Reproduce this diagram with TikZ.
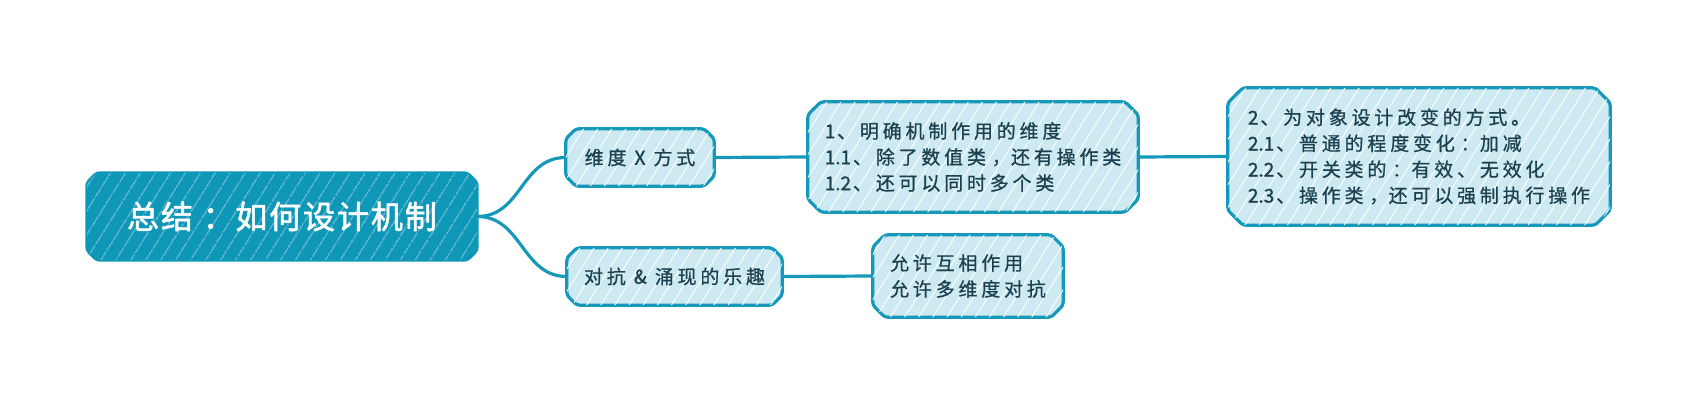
\documentclass[tikz,border=0pt]{standalone}
\usepackage{fontspec}
\newfontfamily\cjk[LetterSpace=20,FakeBold=0.8]{Noto Sans CJK SC}
\newfontfamily\digf[FakeBold=1.2]{Noto Sans CJK SC}
\newfontfamily\cjkroot[LetterSpace=6,FakeBold=1.6]{Noto Sans CJK SC}
\usetikzlibrary{patterns.meta,backgrounds}
\definecolor{teal}{HTML}{0F97B7}
\definecolor{lightfill}{HTML}{CDE9F1}
\definecolor{shadowc}{HTML}{DCEFF5}
\definecolor{edge}{HTML}{1598BA}
\definecolor{ink}{HTML}{1C4050}
\newcommand\cc[1]{\kern0.3em#1\kern0.02em}
\newcommand\nm[1]{{\digf #1}\kern0.1em}
\tikzset{
  txt/.style={shape=rectangle, inner sep=0pt, align=left, text=ink,
    font=\cjk\fontsize{19}{26}\selectfont},
  roottxt/.style={shape=rectangle, inner sep=0pt, text=white,
    font=\cjkroot\fontsize{32}{36}\selectfont},
  boxlight/.style={draw=edge, line width=3.2pt, fill=lightfill, rounded corners=3pt,
    postaction={fill opacity=0.55, pattern={Lines[angle=58,distance=12pt,line width=0.9pt]}, pattern color=white}},
  boxroot/.style={draw=teal, line width=3pt, fill=teal, rounded corners=3pt,
    postaction={fill opacity=0.55, pattern={Lines[angle=58,distance=13pt,line width=1pt]}, pattern color=white}},
  boxshadow/.style={fill=shadowc, rounded corners=3pt, xshift=2pt, yshift=-5pt},
  link/.style={draw=edge, line width=3.2pt, line cap=round},
}
\newcommand\chbox[3]{%
  \path[#3] ([xshift=#2]#1.north west) -- ([xshift=-#2]#1.north east) -- ([yshift=-#2]#1.north east)
    -- ([yshift=#2]#1.south east) -- ([xshift=-#2]#1.south east) -- ([xshift=#2]#1.south west)
    -- ([yshift=#2]#1.south west) -- ([yshift=-#2]#1.north west) -- cycle;}
\begin{document}
\begin{tikzpicture}[x=1pt,y=-1pt]
\useasboundingbox (0,0) rectangle (1699,406);
\node[roottxt, minimum width=390pt, minimum height=87pt] (root) at (282,216.5) {总结\cc{：}如何设计机制};
\node[txt, minimum width=148pt, minimum height=57pt] (dim) at (640,157.5) {维度 {\digf X} 方式};
\node[txt, minimum width=330pt, minimum height=110pt] (n1) at (973,157) {\nm{1}、明确机制作用的维度\\\nm{1.1}、除了数值类\cc{，}还有操作类\\\nm{1.2}、还可以同时多个类};
\node[txt, minimum width=382pt, minimum height=137pt] (n2) at (1419,156.5) {\nm{2}、为对象设计改变的方式。\\\nm{2.1}、普通的程度变化\cc{：}加减\\\nm{2.2}、开关类的\cc{：}有效、无效化\\\nm{2.3}、操作类\cc{，}还可以强制执行操作};
\node[txt, minimum width=215pt, minimum height=57pt] (fight) at (674.5,276.5) {对抗 {\digf\&} 涌现的乐趣};
\node[txt, minimum width=190pt, minimum height=82pt] (allow) at (968,276) {允许互相作用\\允许多维度对抗};
\begin{scope}[on background layer]
  \chbox{dim}{10pt}{boxshadow}
  \chbox{n1}{13pt}{boxshadow}
  \chbox{n2}{15pt}{boxshadow}
  \chbox{fight}{10pt}{boxshadow}
  \chbox{allow}{12pt}{boxshadow}
  \draw[link] (root.east) .. controls +(45,0) and +(-45,0) .. (dim.west);
  \draw[link] (root.east) .. controls +(45,0) and +(-45,0) .. (fight.west);
  \draw[link] (dim.east) -- (n1.west);
  \draw[link] (n1.east) -- (n2.west);
  \draw[link] (fight.east) -- (allow.west);
  \chbox{root}{10pt}{boxroot}
  \chbox{dim}{10pt}{boxlight}
  \chbox{n1}{13pt}{boxlight}
  \chbox{n2}{15pt}{boxlight}
  \chbox{fight}{10pt}{boxlight}
  \chbox{allow}{12pt}{boxlight}
\end{scope}
\end{tikzpicture}
\end{document}
